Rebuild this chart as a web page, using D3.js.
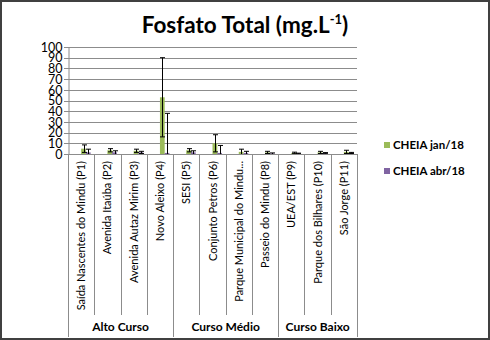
<!DOCTYPE html>
<html><head><meta charset="utf-8">
<script src="https://cdn.jsdelivr.net/npm/d3@7"></script>
<style>
html,body{margin:0;padding:0;background:#fff;}
svg{display:block;font-family:Lato,"Open Sans",sans-serif;}
</style></head>
<body><svg id="c" width="490" height="340"></svg>
<script>
const categories = ["Saída Nascentes do Mindu (P1)","Avenida Itaúba (P2)","Avenida Autaz Mirim (P3)","Novo Aleixo (P4)","SESI (P5)","Conjunto Petros (P6)","Parque Municipal do Mindu...","Passeio do Mindu (P8)","UEA/EST (P9)","Parque dos Bilhares (P10)","São Jorge (P11)"];
const groups = [{name:"Alto Curso", start:0, end:3},{name:"Curso Médio", start:4, end:7},{name:"Curso Baixo", start:8, end:10}];
const seriesNames = ["CHEIA jan/18","CHEIA abr/18"];
const seriesColors = ["#9BBB59","#8064A2"];
const janValues = [5, 3.5, 3, 53, 3.5, 10, 2, 1.5, 1, 1.5, 2];
const janErrors = [3.5, 1.5, 1.5, 37, 1.5, 8, 2.5, 1, 0.7, 1, 1.5];
const abrValues = [1.5, 1.5, 1.5, 1, 1.5, 1, 1, 0.5, 0.5, 0.8, 1];
const abrErrors = [3, 1.5, 1, 37, 1.5, 7, 1.5, 0.5, 0.3, 0.5, 0.5];
const yTicks = [0,10,20,30,40,50,60,70,80,90,100];

(function(){
const svg = d3.select("#c");
svg.append("rect").attr("x",1).attr("y",1).attr("width",488).attr("height",338)
  .attr("fill","#fff").attr("stroke","#404040").attr("stroke-width",2);

const title = svg.append("text").attr("x",245).attr("y",33).attr("text-anchor","middle")
  .attr("font-size",22.5).attr("font-weight","bold").attr("fill","#000");
title.append("tspan").text("Fosfato Total (mg.L");
title.append("tspan").attr("font-size",13).attr("dy",-9).text("-1");
title.append("tspan").attr("dy",9).text(")");

const pl = 68, pr = 357, pt = 47, pb = 154;
const x = d3.scaleBand().domain(categories).range([pl, pr]).padding(0);
const bw = x.bandwidth();
const x1 = d3.scaleBand().domain(seriesNames).range([0.5*bw, 0.86*bw]).padding(0);
const y = d3.scaleLinear().domain([0,100]).range([pb, pt]).clamp(true);

svg.append("g").selectAll("line").data(yTicks).join("line")
  .attr("x1",pl-4).attr("x2",pr).attr("y1",d=>Math.round(y(d))+0.5).attr("y2",d=>Math.round(y(d))+0.5)
  .attr("stroke","#8c8c8c").attr("stroke-width",1);

const yAxis = d3.axisLeft(y).tickValues(yTicks).tickSize(0).tickPadding(6);
const ya = svg.append("g").attr("transform",`translate(${pl+0.5},0)`).call(yAxis);
ya.select(".domain").attr("stroke","#8c8c8c");
ya.selectAll("text").attr("font-size",12.5).attr("fill","#000").attr("font-family","Lato,sans-serif")
  .attr("dy","0.34em");

const seriesData = [
  {name:seriesNames[0], vals:janValues, errs:janErrors, color:seriesColors[0]},
  {name:seriesNames[1], vals:abrValues, errs:abrErrors, color:seriesColors[1]}
];
const plot = svg.append("g");
seriesData.forEach(s=>{
  plot.append("g").selectAll("rect").data(categories).join("rect")
    .attr("x",(c)=>x(c)+x1(s.name)).attr("width",x1.bandwidth())
    .attr("y",(c,i)=>y(s.vals[i])).attr("height",(c,i)=>y(0)-y(s.vals[i]))
    .attr("fill",s.color);
});
seriesData.forEach(s=>{
  const g = plot.append("g").attr("stroke","#000").attr("stroke-width",1);
  categories.forEach((c,i)=>{
    const cx = Math.round(x(c)+x1(s.name)+x1.bandwidth()/2)+0.5;
    const hi = y(s.vals[i]+s.errs[i]), lo = y(s.vals[i]-s.errs[i]);
    g.append("line").attr("x1",cx).attr("x2",cx).attr("y1",hi).attr("y2",lo);
    g.append("line").attr("x1",cx-2.5).attr("x2",cx+2.5).attr("y1",hi).attr("y2",hi);
    if (s.vals[i]-s.errs[i] > 0)
      g.append("line").attr("x1",cx-2.5).attr("x2",cx+2.5).attr("y1",lo).attr("y2",lo);
  });
});

svg.append("line").attr("x1",pl).attr("x2",pr).attr("y1",pb+0.5).attr("y2",pb+0.5)
  .attr("stroke","#8c8c8c");

const seps = d3.range(categories.length+1);
const groupBounds = new Set([0,4,8,11]);
const sx = i=>Math.round(i<categories.length? x(categories[i]) : pr)+0.5;
svg.append("g").selectAll("line").data(seps).join("line")
  .attr("x1",sx).attr("x2",sx)
  .attr("y1",pb).attr("y2",i=>groupBounds.has(i)?337:315)
  .attr("stroke","#8c8c8c");

svg.append("g").selectAll("text").data(categories).join("text")
  .attr("transform",c=>`translate(${x(c)+bw/2+4},${pb+7}) rotate(-90)`)
  .attr("text-anchor","end").attr("font-size",11).attr("fill","#000")
  .text(c=>c);

svg.append("g").selectAll("text").data(groups).join("text")
  .attr("x",g=>(x(categories[g.start]) + x(categories[g.end])+bw)/2)
  .attr("y",331).attr("text-anchor","middle").attr("font-size",12)
  .attr("font-weight","bold").attr("fill","#000").text(g=>g.name);

const lg = svg.append("g");
seriesNames.forEach((n,i)=>{
  const ly = 148 + i*26;
  lg.append("rect").attr("x",384).attr("y",ly-6).attr("width",6).attr("height",6).attr("fill",seriesColors[i]);
  lg.append("text").attr("x",393).attr("y",ly+1).attr("font-size",11.5).attr("font-weight","bold")
    .attr("fill","#000").text(n);
});
})();
</script></body></html>
